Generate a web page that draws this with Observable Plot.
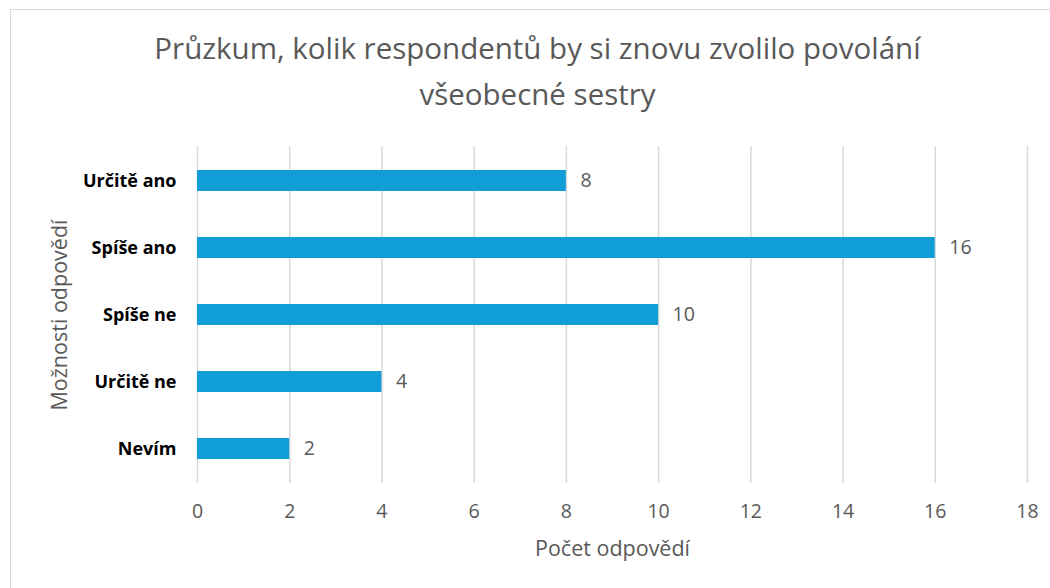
<!DOCTYPE html>
<html>
<head>
<meta charset="utf-8">
<script src="https://cdn.jsdelivr.net/npm/d3@7"></script>
<script src="https://cdn.jsdelivr.net/npm/@observablehq/plot@0.6"></script>
<style>
  html, body { margin: 0; padding: 0; background: #fff; overflow: hidden; }
  #wrap { position: relative; width: 1050px; height: 588px; }
  #border { position: absolute; left: 10px; top: 9px; width: 1100px; height: 700px;
            border: 1.5px solid #d9d9d9; box-sizing: border-box; pointer-events: none; }
  #chart svg { display: block; }
</style>
</head>
<body>
<div id="wrap">
  <div id="chart"></div>
  <div id="border"></div>
</div>
<script>
const titleLines = ["Průzkum, kolik respondentů by si znovu zvolilo povolání", "všeobecné sestry"];
const categories = ["Určitě ano", "Spíše ano", "Spíše ne", "Určitě ne", "Nevím"];
const values = [8, 16, 10, 4, 2];
const xTicks = [0, 2, 4, 6, 8, 10, 12, 14, 16, 18];
const xTitle = "Počet odpovědí";
const yTitle = "Možnosti odpovědí";

const data = categories.map((c, i) => ({cat: c, value: values[i]}));
const font = "'Open Sans', 'Noto Sans', sans-serif";

const chart = Plot.plot({
  width: 1050,
  height: 588,
  marginTop: 146,
  marginBottom: 105,
  marginLeft: 197,
  marginRight: 23,
  style: {fontFamily: font, background: "transparent"},
  x: {domain: [0, 18], label: null},
  y: {domain: categories, padding: 0, label: null},
  marks: [
    Plot.gridX(xTicks, {stroke: "#d9d9d9", strokeOpacity: 1, strokeWidth: 1.5}),
    Plot.barX(data, {x: "value", y: "cat", fill: "#119ed6", insetTop: 23, insetBottom: 23}),
    Plot.text(data, {x: "value", y: "cat", text: d => String(d.value), textAnchor: "start",
      dx: 14, fill: "#595959", fontSize: 19.5}),
    Plot.axisX(xTicks, {tickSize: 0, tickPadding: 21, fontSize: 19.5, color: "#595959", label: null}),
    Plot.axisY({tickSize: 0, tickPadding: 21, fontSize: 18, fontWeight: "bold", color: "#000", label: null}),
    Plot.text([xTitle], {frameAnchor: "bottom", lineAnchor: "middle", dy: 66, fontSize: 21.5, fill: "#595959"}),
    Plot.text([yTitle], {frameAnchor: "left", lineAnchor: "middle", textAnchor: "middle", rotate: -90, dx: -137, fontSize: 21.5, fill: "#595959"}),
    Plot.text([titleLines[0]], {frameAnchor: "top", lineAnchor: "middle", dy: -97, dx: -75, fontSize: 29.5, fill: "#595959"}),
    Plot.text([titleLines[1]], {frameAnchor: "top", lineAnchor: "middle", dy: -51, dx: -75, fontSize: 29.5, fill: "#595959"})
  ]
});
document.getElementById("chart").appendChild(chart);
</script>
</body>
</html>
